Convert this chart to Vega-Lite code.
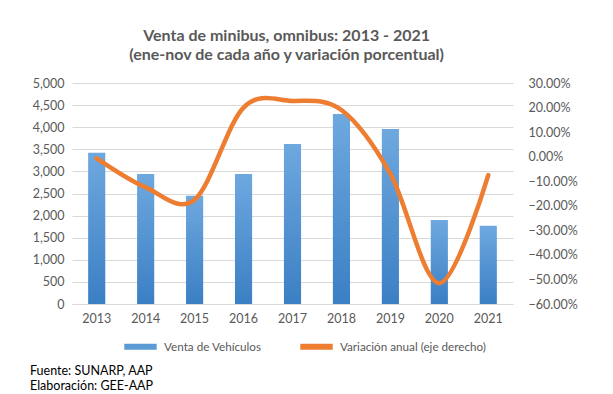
{
  "$schema": "https://vega.github.io/schema/vega-lite/v6.json",
  "background": "white",
  "padding": {"left": 30, "top": 28, "right": 5, "bottom": 5},
  "config": {
    "font": "Lato",
    "view": {"stroke": null},
    "axis": {"labelFont": "Lato", "labelFontSize": 12.5, "labelColor": "#595959", "ticks": false, "domain": false, "title": null},
    "legend": {"labelFont": "Lato", "labelFontSize": 11.7, "labelColor": "#595959", "labelLimit": 400}
  },
  "title": {
    "text": ["Venta de minibus, omnibus: 2013 - 2021", "(ene-nov de cada año y variación porcentual)"],
    "font": "Lato",
    "fontSize": 16,
    "fontWeight": "bold",
    "color": "#595959",
    "lineHeight": 19,
    "anchor": "middle",
    "offset": 14,
    "dx": -17
  },
  "spacing": 6,
  "resolve": {"legend": {"color": "independent"}},
  "vconcat": [
    {
      "width": 441,
      "height": 221,
      "data": {
        "values": [
          {"anio": "2013", "ventas": 3420, "variacion": -0.007},
          {"anio": "2014", "ventas": 2940, "variacion": -0.125},
          {"anio": "2015", "ventas": 2450, "variacion": -0.175},
          {"anio": "2016", "ventas": 2940, "variacion": 0.2},
          {"anio": "2017", "ventas": 3620, "variacion": 0.227},
          {"anio": "2018", "ventas": 4300, "variacion": 0.19},
          {"anio": "2019", "ventas": 3960, "variacion": -0.07},
          {"anio": "2020", "ventas": 1900, "variacion": -0.515},
          {"anio": "2021", "ventas": 1771, "variacion": -0.075}
        ]
      },
      "encoding": {
        "x": {
          "field": "anio",
          "type": "ordinal",
          "scale": {"paddingInner": 0.65, "paddingOuter": 0.33},
          "axis": {"labelAngle": 0, "domain": true, "domainColor": "#d9d9d9", "labelPadding": 8}
        }
      },
      "layer": [
        {
          "mark": {
            "type": "bar",
            "color": {
              "gradient": "linear", "x1": 0, "y1": 0, "x2": 0, "y2": 1,
              "stops": [{"offset": 0, "color": "#6ea8df"}, {"offset": 1, "color": "#3b7fc4"}]
            }
          },
          "encoding": {
            "y": {
              "field": "ventas",
              "type": "quantitative",
              "scale": {"domain": [0, 5000], "nice": false},
              "axis": {
                "values": [0, 500, 1000, 1500, 2000, 2500, 3000, 3500, 4000, 4500, 5000],
                "format": ",.0f",
                "grid": true,
                "gridColor": "#d9d9d9",
                "labelPadding": 8
              }
            }
          }
        },
        {
          "mark": {"type": "line", "interpolate": "cardinal", "tension": 0, "strokeWidth": 4.5, "strokeCap": "round"},
          "encoding": {
            "y": {
              "field": "variacion",
              "type": "quantitative",
              "scale": {"domain": [-0.6, 0.3], "nice": false, "zero": false},
              "axis": {
                "orient": "right",
                "values": [-0.6, -0.5, -0.4, -0.3, -0.2, -0.1, 0, 0.1, 0.2, 0.3],
                "format": ".2%",
                "grid": false,
                "labelPadding": 15
              }
            },
            "color": {
              "datum": "Variación anual (eje derecho)",
              "type": "nominal",
              "scale": {
                "domain": ["Venta de Vehículos", "Variación anual (eje derecho)"],
                "range": ["#5b9bd5", "#ed7d31"]
              },
              "legend": {
                "title": null,
                "orient": "none",
                "direction": "horizontal",
                "legendX": 49,
                "legendY": 244,
                "symbolType": "stroke",
                "symbolStrokeWidth": 6,
                "symbolSize": 1050,
                "columnPadding": 26,
                "labelOffset": 4
              }
            }
          }
        }
      ],
      "resolve": {"scale": {"y": "independent"}}
    },
    {
      "width": 441,
      "height": 1,
      "data": {"values": [{"a": 1}]},
      "mark": {"type": "text"},
      "encoding": {},
      "title": {
        "text": ["Fuente: SUNARP, AAP", "Elaboración: GEE-AAP"],
        "anchor": "start",
        "orient": "top",
        "frame": "group",
        "dx": -42,
        "font": "Lato",
        "fontSize": 12.5,
        "fontWeight": "normal",
        "color": "#000000",
        "lineHeight": 15
      }
    }
  ]
}
